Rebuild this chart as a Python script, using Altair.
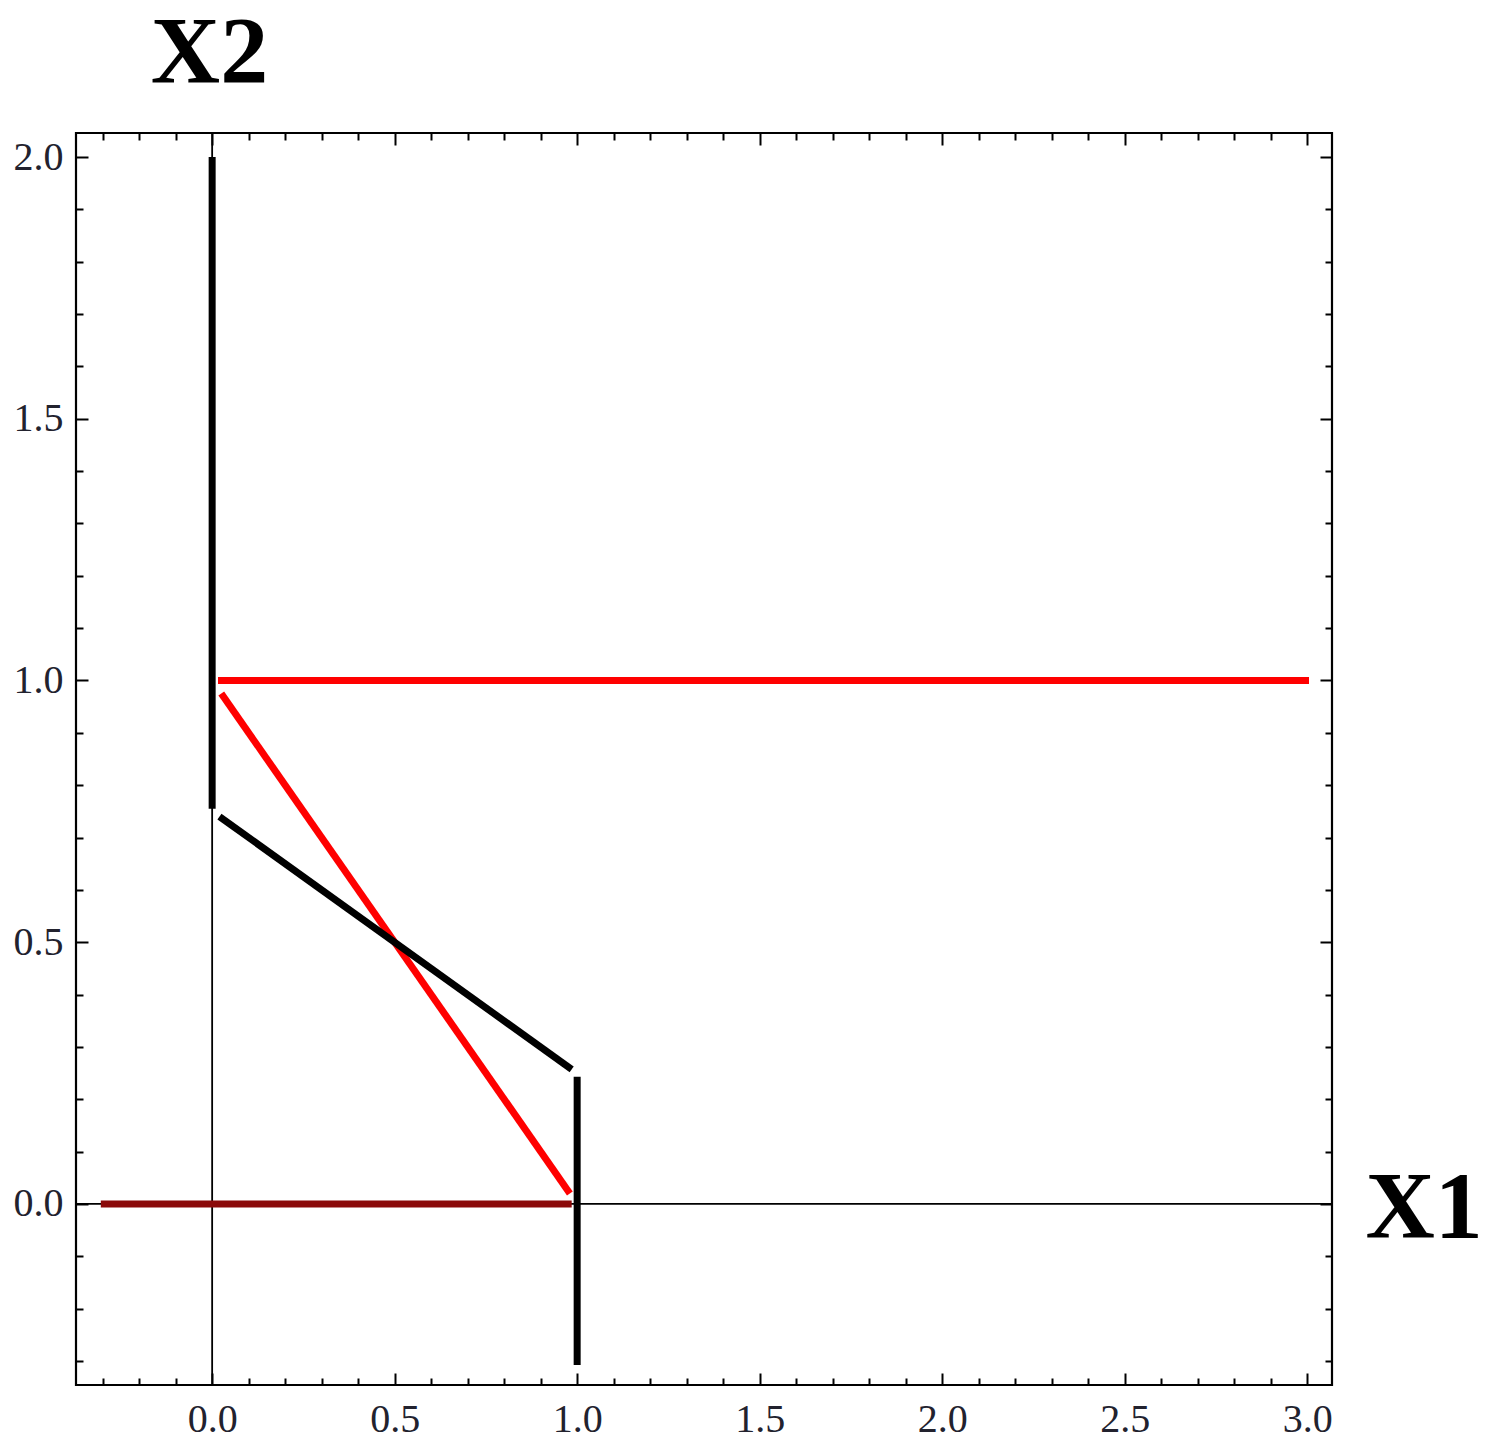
import altair as alt
import pandas as pd

# tick positions (every 0.1), labels only on multiples of 0.5
x_ticks = [-0.3, -0.2, -0.1, 0.0, 0.1, 0.2, 0.3, 0.4, 0.5, 0.6, 0.7, 0.8, 0.9,
           1.0, 1.1, 1.2, 1.3, 1.4, 1.5, 1.6, 1.7, 1.8, 1.9, 2.0, 2.1, 2.2,
           2.3, 2.4, 2.5, 2.6, 2.7, 2.8, 2.9, 3.0]
y_ticks = [-0.3, -0.2, -0.1, 0.0, 0.1, 0.2, 0.3, 0.4, 0.5, 0.6, 0.7, 0.8, 0.9,
           1.0, 1.1, 1.2, 1.3, 1.4, 1.5, 1.6, 1.7, 1.8, 1.9, 2.0]

x_domain = [-0.373, 3.068]
y_domain = [-0.346, 2.046]

# line segments
seg_group = ["darkred", "red", "red", "black", "black", "black"]
seg_x = [-0.305, 0.025, 0.016, 0.0, 0.02, 1.0]
seg_y = [0.0, 0.975, 1.0, 2.0, 0.74, 0.243]
seg_x2 = [0.985, 0.98, 3.005, 0.0, 0.985, 1.0]
seg_y2 = [0.0, 0.02, 1.0, 0.755, 0.257, -0.308]

zero_line = [0.0]

segs = pd.DataFrame({"g": seg_group, "x": seg_x, "y": seg_y, "x2": seg_x2, "y2": seg_y2,
                     "o": list(range(len(seg_group)))})
zeros = pd.DataFrame({"v": zero_line})

major_test = "abs(datum.value*2 - round(datum.value*2)) < 0.000001"
tick_size = {"condition": {"test": major_test, "value": -12}, "value": -7}
label_expr = f"{major_test} ? format(datum.value, '.1f') : ''"

FONT = "Liberation Serif"

tick_axis = dict(grid=False, domain=False, tickColor="black", tickWidth=2,
                 tickSize=tick_size)
label_axis = dict(labelFont=FONT, labelFontSize=40,
                  labelColor="#22222e", labelOverlap=False, labelFlush=False,
                  labelBound=False, titleFont=FONT, titleFontSize=96,
                  titleFontWeight="bold", titleColor="black")

xs = alt.Scale(domain=x_domain, nice=False, zero=False)
ys = alt.Scale(domain=y_domain, nice=False, zero=False)

vline = alt.Chart(zeros).mark_rule(color="black", strokeWidth=1.8).encode(
    x=alt.X("v:Q", scale=xs,
            axis=alt.Axis(orient="top", values=x_ticks, labels=False, title=None,
                          **tick_axis))
)

hline = alt.Chart(zeros).mark_rule(color="black", strokeWidth=1.8).encode(
    y=alt.Y("v:Q", scale=ys,
            axis=alt.Axis(orient="right", values=y_ticks, labels=False, title=None,
                          **tick_axis))
)

lines = alt.Chart(segs).mark_rule(strokeWidth=7, strokeCap="butt").encode(
    x=alt.X("x:Q", scale=xs,
            axis=alt.Axis(orient="bottom", values=x_ticks, labelExpr=label_expr,
                          labelPadding=26, labelBaseline="top", title="X1",
                          titleAngle=0, titleAlign="left", titleBaseline="alphabetic",
                          titleX=1289, titleY=-148, **tick_axis, **label_axis)),
    y=alt.Y("y:Q", scale=ys,
            axis=alt.Axis(orient="left", values=y_ticks, labelExpr=label_expr,
                          labelPadding=25, title="X2", titleAngle=0,
                          titleAlign="center", titleBaseline="alphabetic",
                          titleX=133, titleY=-51, **tick_axis, **label_axis)),
    x2="x2:Q",
    y2="y2:Q",
    color=alt.Color("g:N", scale=alt.Scale(domain=["black", "red", "darkred"],
                                           range=["#000000", "#ff0000", "#8b0a0a"]),
                    legend=None),
    order="o:Q",
)

chart = alt.layer(vline, hline, lines).resolve_axis(
    x="independent", y="independent"
).properties(
    width=1256, height=1252,
    autosize="none",
    background="white",
    padding={"left": 68, "top": 125, "right": 150, "bottom": 58},
).configure_view(stroke="black", strokeWidth=2.2)

chart.save("out.html", embed_options={"renderer": "svg", "actions": False})
